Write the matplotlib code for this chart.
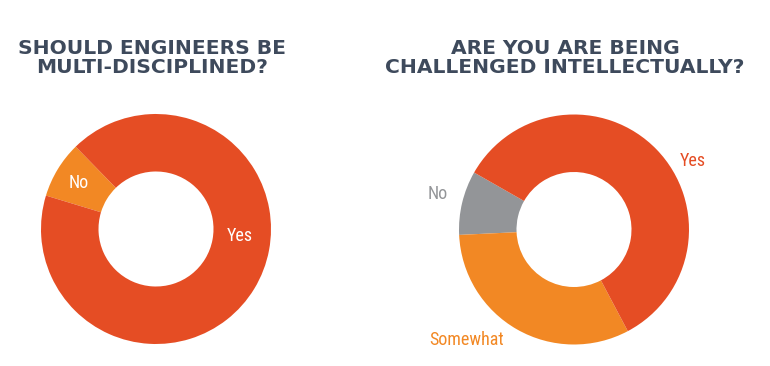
import matplotlib.pyplot as plt
import numpy as np

# data (percent)
left_labels = ['No', 'Yes']
left_values = [8, 92]
right_labels = ['No', 'Somewhat', 'Yes']
right_values = [9, 32, 59]

left_title = 'SHOULD ENGINEERS BE\nMULTI-DISCIPLINED?'
right_title = 'ARE YOU ARE BEING\nCHALLENGED INTELLECTUALLY?'

RED = '#e54d24'
ORANGE = '#f28824'
GREY = '#939598'
NAVY = '#3e4a5c'

label_font = ['Roboto Condensed', 'Liberation Sans Narrow', 'DejaVu Sans Condensed', 'Roboto']
title_font = ['DejaVu Sans']

fig = plt.figure(figsize=(7.7, 3.66), dpi=100)
W, H = 770, 366


def donut(cx, cy, r, values, colors, start):
    ax = fig.add_axes([(cx - r) / W, (H - cy - r) / H, 2 * r / W, 2 * r / H])
    ax.pie(values, colors=colors, startangle=start, counterclock=True,
           radius=1, wedgeprops=dict(width=0.5, linewidth=0))
    ax.set_xlim(-1, 1)
    ax.set_ylim(-1, 1)
    ax.set_aspect('equal')
    ax.axis('off')
    return ax


def put_label(ax, text, angle, dist, color):
    a = np.radians(angle)
    ax.text(dist * np.cos(a), dist * np.sin(a), text, ha='center', va='center',
            color=color, fontsize=13, family=label_font)


# left donut
axl = donut(156, 229, 115, left_values, [ORANGE, RED], 134.3)
put_label(axl, left_labels[0], 149, 0.78, 'white')
put_label(axl, left_labels[1], -5, 0.73, 'white')

# right donut
axr = donut(574, 229.5, 115, right_values, [GREY, ORANGE, RED], 150.3)
put_label(axr, right_labels[0], 165.4, 1.22, GREY)
put_label(axr, right_labels[1], 225.9, 1.34, ORANGE)
put_label(axr, right_labels[2], 29.9, 1.19, RED)

fig.text(152 / W, 1 - 58 / H, left_title, ha='center', va='center',
         fontsize=14.6, fontweight='bold', color=NAVY, family=title_font,
         linespacing=1.0)
fig.text(565 / W, 1 - 58 / H, right_title, ha='center', va='center',
         fontsize=14.6, fontweight='bold', color=NAVY, family=title_font,
         linespacing=1.0)

fig.savefig('out.png', dpi=100, facecolor='white')
